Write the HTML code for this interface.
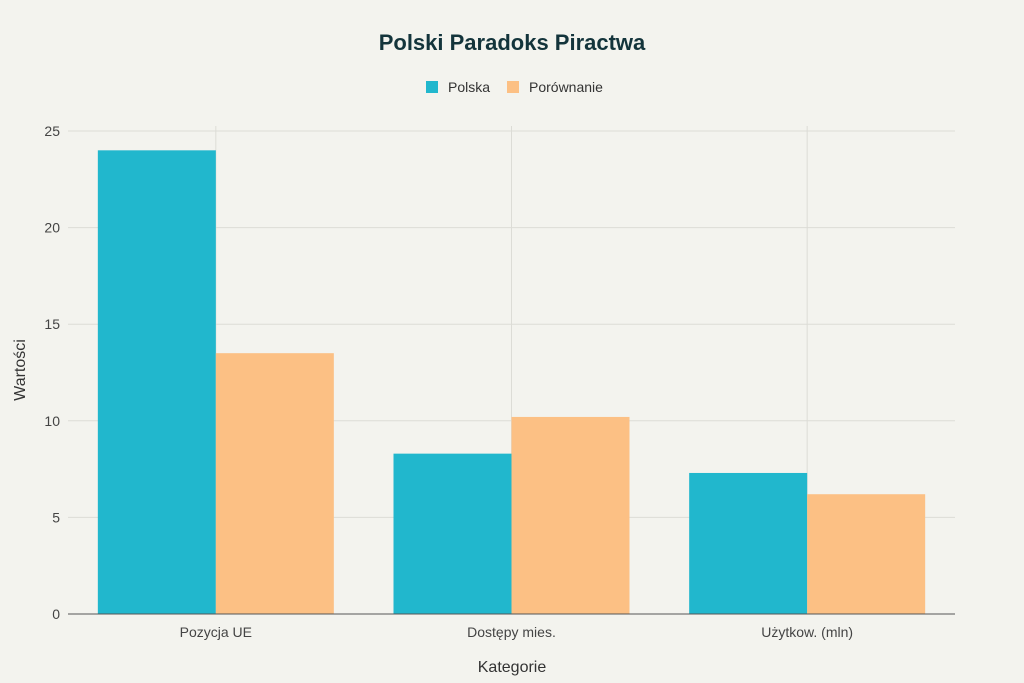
<!DOCTYPE html>
<html><head><meta charset="utf-8"><style>
html,body{margin:0;padding:0;background:#f3f3ee;}
svg{display:block;font-family:"Liberation Sans",sans-serif;}
</style></head><body>
<svg id="chart" width="1024" height="683">
<rect width="1024" height="683" fill="#f3f3ee"/>
<text x="512" y="50" text-anchor="middle" font-size="22" font-weight="bold" fill="#13343b">Polski Paradoks Piractwa</text>
<g>
<rect x="426" y="81" width="12" height="12" fill="#21b7cd"/>
<text x="448" y="92" font-size="14" fill="#333">Polska</text>
<rect x="507" y="81" width="12" height="12" fill="#fcc084"/>
<text x="529" y="92" font-size="14" fill="#333">Porównanie</text>
</g>
<g id="grid"></g>
<g id="bars"></g>
<g id="axes"></g>
<text x="512" y="672" text-anchor="middle" font-size="16" fill="#333">Kategorie</text>
<text transform="translate(25,370) rotate(-90)" text-anchor="middle" font-size="16" fill="#333">Wartości</text>
</svg>
<script>
const categories = ["Pozycja UE", "Dostępy mies.", "Użytkow. (mln)"];
const polska = [24, 8.3, 7.3];
const porownanie = [13.5, 10.2, 6.2];
const yTicks = [0, 5, 10, 15, 20, 25];

const NS = "http://www.w3.org/2000/svg";
const left = 68, right = 955, y0 = 614, yTop = 131, yMax = 25;
const band = (right - left) / categories.length;
const bw = 118;
function yScale(v){ return y0 - (v / yMax) * (y0 - yTop); }
function xCenter(i){ return left + band * (i + 0.5); }
function mk(tag, attrs, parent){ const e = document.createElementNS(NS, tag); for (const k in attrs) e.setAttribute(k, attrs[k]); parent.appendChild(e); return e; }

const grid = document.getElementById("grid"), bars = document.getElementById("bars"), axes = document.getElementById("axes");
yTicks.forEach(t => {
  const y = yScale(t);
  if (t > 0) {
    const l = mk("line", {x1: left, x2: right, y1: y, y2: y, stroke: "#dcdcd6", "stroke-width": 1}, grid);
    
    
  }
  const tx = mk("text", {x: 60, y: y + 5, "text-anchor": "end", "font-size": 14, fill: "#444"}, axes);
  tx.textContent = t;
  
  
});
categories.forEach((c, i) => {
  const cx = xCenter(i);
  const g = mk("line", {x1: cx, x2: cx, y1: 126, y2: y0, stroke: "#dcdcd6", "stroke-width": 1}, grid);
  
  
  const b1 = mk("rect", {x: cx - bw, y: yScale(polska[i]), width: bw, height: y0 - yScale(polska[i]), fill: "#21b7cd"}, bars);
  
  
  const b2 = mk("rect", {x: cx, y: yScale(porownanie[i]), width: bw, height: y0 - yScale(porownanie[i]), fill: "#fcc084"}, bars);
  
  
  const lbl = mk("text", {x: cx, y: 637, "text-anchor": "middle", "font-size": 14, fill: "#444"}, axes);
  lbl.textContent = c;
  
  
});
const ax = mk("line", {x1: left, x2: right, y1: y0, y2: y0, stroke: "#555", "stroke-width": 1}, axes);


</script>
</body></html>
